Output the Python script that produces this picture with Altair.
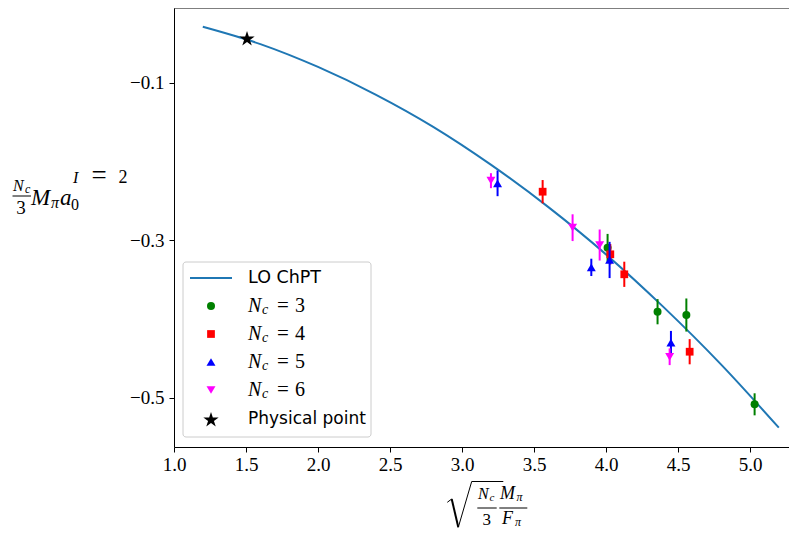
import math
import altair as alt
import pandas as pd

# ---------------- data ----------------
curve_x = [1.2, 1.6, 2.0, 2.4, 2.8, 3.2, 3.6, 4.0, 4.4, 4.8, 5.2]
curve_y = [-0.029, -0.051, -0.080, -0.115, -0.156, -0.204, -0.258, -0.318, -0.385, -0.458, -0.538]

nc3_x = [4.011, 4.358, 4.558, 5.032]
nc3_y = [-0.3095, -0.3908, -0.3950, -0.5084]
nc3_err = [0.0175, 0.016, 0.021, 0.014]

nc4_x = [3.560, 4.030, 4.127, 4.581]
nc4_y = [-0.2384, -0.3179, -0.3433, -0.4416]
nc4_err = [0.0148, 0.013, 0.016, 0.016]

nc5_x = [3.247, 3.898, 4.025, 4.451]
nc5_y = [-0.2278, -0.3345, -0.3251, -0.4302]
nc5_err = [0.0163, 0.011, 0.023, 0.015]

nc6_x = [3.201, 3.768, 3.956, 4.442]
nc6_y = [-0.2244, -0.2841, -0.3061, -0.4480]
nc6_err = [0.0095, 0.017, 0.0197, 0.0106]

phys_x = [1.507]
phys_y = [-0.0445]

x_ticks = [1.0, 1.5, 2.0, 2.5, 3.0, 3.5, 4.0, 4.5, 5.0]
y_ticks = [-0.1, -0.3, -0.5]

# ---------------- layout / style ----------------
W, H = 615, 439
XDOM = [1.0, 1.0 + 615 / 144.0]
YDOM = [-0.5626, -0.00514]
SERIF = "Liberation Serif"
SANS = "DejaVu Sans"
LINE_C = "#1f77b4"

xs = alt.Scale(domain=XDOM, nice=False, zero=False)
ys = alt.Scale(domain=YDOM, nice=False, zero=False)

xaxis = alt.Axis(values=x_ticks, format=".1f", title="", grid=False,
                 domainColor="black", tickColor="black", tickSize=5,
                 labelFont=SERIF, labelFontSize=19, labelColor="black",
                 labelPadding=3, labelFlush=False, labelOverlap=False)
yaxis = alt.Axis(values=y_ticks, format=".1f", title="", grid=False,
                 domainColor="black", tickColor="black", tickSize=5,
                 labelFont=SERIF, labelFontSize=19, labelColor="black",
                 labelPadding=5, labelFlush=False, labelOverlap=False)

one = pd.DataFrame({"a": [0]})

# star path (unit coordinates)
pts = []
for k in range(10):
    r = 1.0 if k % 2 == 0 else 0.382
    ang = math.pi / 2 + k * math.pi / 5
    pts.append((r * math.cos(ang), -r * math.sin(ang)))
STAR = "M" + " L".join(f"{px:.3f},{py:.3f}" for px, py in pts) + " Z"

layers = []

# curve
curve_df = pd.DataFrame({"x": curve_x, "y": curve_y})
layers.append(
    alt.Chart(curve_df).mark_line(color=LINE_C, strokeWidth=2, interpolate="monotone").encode(
        x=alt.X("x:Q", scale=xs, axis=xaxis),
        y=alt.Y("y:Q", scale=ys, axis=yaxis),
    )
)

series = [
    (nc3_x, nc3_y, nc3_err, "green", "circle", 64),
    (nc4_x, nc4_y, nc4_err, "red", "square", 60),
    (nc5_x, nc5_y, nc5_err, "blue", "triangle-up", 80),
    (nc6_x, nc6_y, nc6_err, "magenta", "triangle-down", 80),
]
for sx, sy, se, col, shp, sz in series:
    df = pd.DataFrame({"x": sx, "y": sy, "e": se})
    base = alt.Chart(df).transform_calculate(lo="datum.y - datum.e", hi="datum.y + datum.e")
    layers.append(
        base.mark_rule(color=col, strokeWidth=2).encode(
            x=alt.X("x:Q", scale=xs), y=alt.Y("lo:Q", scale=ys), y2="hi:Q"
        )
    )
    layers.append(
        base.mark_point(shape=shp, filled=True, color=col, size=sz, opacity=1).encode(
            x=alt.X("x:Q", scale=xs), y=alt.Y("y:Q", scale=ys)
        )
    )

phys_df = pd.DataFrame({"x": phys_x, "y": phys_y})
layers.append(
    alt.Chart(phys_df).mark_point(shape=STAR, filled=True, color="black", size=260, opacity=1).encode(
        x=alt.X("x:Q", scale=xs), y=alt.Y("y:Q", scale=ys)
    )
)

# top frame line
layers.append(
    alt.Chart(one).mark_rule(color="black", strokeWidth=1).encode(
        x=alt.value(0), x2=alt.value(W), y=alt.value(0)
    )
)


def txt(text, x, y, size, italic=False, align="left", font=SERIF, baseline="alphabetic"):
    return alt.Chart(one).mark_text(
        text=text, fontSize=size, fontStyle="italic" if italic else "normal",
        align=align, baseline=baseline, font=font, color="black"
    ).encode(x=alt.value(x), y=alt.value(y))


def seg(x1, y1, x2, y2, w=1.0):
    return alt.Chart(one).mark_rule(color="black", strokeWidth=w).encode(
        x=alt.value(x1), y=alt.value(y1), x2=alt.value(x2), y2=alt.value(y2)
    )


# ---------------- legend ----------------
layers.append(
    alt.Chart(one).mark_rect(fill="white", fillOpacity=0.8, stroke="#cccccc",
                             strokeWidth=1, cornerRadius=3).encode(
        x=alt.value(9), x2=alt.value(197), y=alt.value(254), y2=alt.value(429)
    )
)
layers.append(
    alt.Chart(one).mark_rule(color=LINE_C, strokeWidth=2).encode(
        x=alt.value(16), x2=alt.value(58), y=alt.value(270)
    )
)
layers.append(txt("LO ChPT", 74, 270, 17.5, font=SANS, baseline="middle"))
leg_rows = [("circle", "green", 64, "3", 298), ("square", "red", 60, "4", 326),
            ("triangle-up", "blue", 80, "5", 354), ("triangle-down", "magenta", 80, "6", 382)]
for shp, col, sz, lab, yy in leg_rows:
    layers.append(
        alt.Chart(one).mark_point(shape=shp, filled=True, color=col, size=sz, opacity=1).encode(
            x=alt.value(37), y=alt.value(yy)
        )
    )
    layers.append(txt("N", 74, yy + 6, 20, italic=True))
    layers.append(txt("c", 88, yy + 8, 14, italic=True))
    layers.append(txt("=", 109, yy + 6, 21, align="center"))
    layers.append(txt(lab, 126, yy + 6, 20, align="center"))
layers.append(
    alt.Chart(one).mark_point(shape=STAR, filled=True, color="black", size=260, opacity=1).encode(
        x=alt.value(37), y=alt.value(412)
    )
)
layers.append(txt("Physical point", 74, 411, 17, font=SANS, baseline="middle"))

# ---------------- y-axis title:  (N_c/3) M_pi a_0^{I=2} ----------------
layers += [
    txt("N", -161, 183, 16, italic=True),
    txt("c", -149, 185, 12, italic=True),
    seg(-161.5, 188, -143, 188, 1),
    txt("3", -153, 206, 19, align="center"),
    txt("M", -143, 197, 23, italic=True),
    txt("π", -123, 200, 16, italic=True),
    txt("a", -114, 197, 23, italic=True),
    txt("0", -103, 202, 16),
    txt("I", -101, 175, 16, italic=True),
    txt("=", -75, 176, 27, align="center"),
    txt("2", -51, 175, 18, align="center"),
]

# ---------------- x-axis title:  sqrt(N_c/3 * M_pi/F_pi) ----------------
layers += [
    seg(273.3, 494.3, 277.7, 491, 1),
    seg(277.7, 491, 284.3, 519.3, 2),
    seg(284.3, 519.3, 297.7, 473.5, 1),
    seg(297.7, 473.5, 329.3, 473.5, 1),
    txt("N", 304, 491, 16, italic=True),
    txt("c", 315.5, 493, 11, italic=True),
    seg(303.3, 500, 322.7, 500, 1),
    txt("3", 312.7, 517, 17, align="center"),
    txt("M", 326, 491, 18, italic=True),
    txt("π", 342.5, 493, 12, italic=True),
    seg(325.3, 500, 353.3, 500, 1),
    txt("F", 328, 516, 18, italic=True),
    txt("π", 341, 518, 12, italic=True),
]

chart = alt.layer(*layers).properties(
    width=W, height=H,
    padding={"left": 166, "top": 0, "right": 0, "bottom": 84},
    autosize=alt.AutoSizeParams(type="none"),
).configure_view(strokeWidth=0).configure_axis(domainWidth=1, tickWidth=1)

chart.save("out.html", embed_options={"renderer": "svg", "actions": False})
